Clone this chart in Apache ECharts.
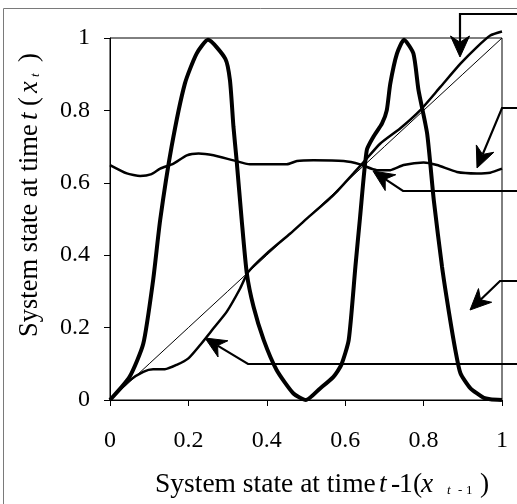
<!DOCTYPE html>
<html>
<head>
<meta charset="utf-8">
<script src="https://cdn.jsdelivr.net/npm/echarts@6/dist/echarts.min.js"></script>
<style>html,body{margin:0;padding:0;background:#fff;}#c{width:517px;height:504px;}</style>
</head>
<body>
<div id="c"></div>
<script>
// Axis ticks
const tickValues = [0, 0.2, 0.4, 0.6, 0.8, 1];

// Thick double-peaked map
const peakX = [0, 0.05, 0.085, 0.11, 0.128, 0.157, 0.191, 0.221, 0.25, 0.294, 0.306, 0.315, 0.323, 0.336, 0.349, 0.366, 0.392, 0.425, 0.468, 0.5, 0.536, 0.57, 0.59, 0.609, 0.626, 0.638, 0.655, 0.672, 0.694, 0.706, 0.715, 0.732, 0.75, 0.774, 0.787, 0.809, 0.826, 0.847, 0.865, 0.881, 0.894, 0.919, 0.953, 0.97, 1];
const peakY = [0, 0.064, 0.156, 0.331, 0.497, 0.699, 0.874, 0.957, 0.995, 0.943, 0.883, 0.754, 0.662, 0.497, 0.35, 0.258, 0.166, 0.083, 0.018, 0, 0.032, 0.064, 0.097, 0.166, 0.368, 0.506, 0.69, 0.727, 0.764, 0.80, 0.874, 0.957, 0.995, 0.957, 0.856, 0.736, 0.552, 0.368, 0.24, 0.138, 0.074, 0.033, 0.006, 0.002, 0];

// Nearly flat map (~0.65)
const flatX = [0, 0.043, 0.077, 0.106, 0.128, 0.162, 0.196, 0.226, 0.264, 0.315, 0.357, 0.451, 0.477, 0.519, 0.596, 0.638, 0.681, 0.715, 0.749, 0.8, 0.834, 0.885, 0.936, 0.97, 1];
const flatY = [0.649, 0.626, 0.619, 0.624, 0.639, 0.653, 0.676, 0.681, 0.676, 0.662, 0.651, 0.651, 0.66, 0.662, 0.66, 0.651, 0.635, 0.635, 0.649, 0.656, 0.649, 0.63, 0.626, 0.628, 0.639];

// Near-identity map
const nearX = [0, 0.051, 0.085, 0.11, 0.14, 0.17, 0.2, 0.23, 0.264, 0.298, 0.332, 0.353, 0.4, 0.46, 0.502, 0.57, 0.621, 0.651, 0.689, 0.74, 0.791, 0.843, 0.894, 0.936, 0.97, 1];
const nearY = [0, 0.055, 0.078, 0.085, 0.085, 0.097, 0.115, 0.152, 0.198, 0.244, 0.308, 0.354, 0.405, 0.46, 0.501, 0.566, 0.626, 0.662, 0.708, 0.75, 0.80, 0.865, 0.929, 0.975, 1.007, 1.018];

// Identity line (x_t = x_{t-1})
const diagX = [0, 0.1, 0.2, 0.3, 0.4, 0.5, 0.6, 0.7, 0.8, 0.9, 1];
const diagY = [0, 0.1, 0.2, 0.3, 0.4, 0.5, 0.6, 0.7, 0.8, 0.9, 1];

// Axis title pieces: [text, isItalic, isSubscript]
const xTitleParts = [['System state at time', false, false], ['t', true, false], ['-', false, false], ['1', false, false], ['(', false, false], ['x', true, false], ['t', true, true], ['-', false, true], ['1', false, true], [')', false, false]];
const yTitleParts = [['System state at time', false, false], ['t', true, false], ['(', false, false], ['x', true, false], ['t', true, true], [')', false, false]];

const zip = (xs, ys) => xs.map((x, i) => [x, ys[i]]);

const SERIF = '"Liberation Serif", "Times New Roman", serif';

// layout of the title pieces (pixel start of each piece along the text direction)
const xTitleLayout = { size: 27.5, sub: 13, shift: 6, across: 485, starts: [155, 379, 391, 399, 413, 421, 447, 458, 466, 480] };
const yTitleLayout = { size: 26.5, sub: 13, shift: 6, across: 30, starts: [337, 120, 106, 93, 77, 62] };

// annotation arrows (pixel paths; last point is the arrow tip)
const arrowPaths = [
  [[520, 14], [460, 14], [460, 57]],
  [[520, 108], [502, 108], [477, 168]],
  [[520, 191], [403, 191], [373, 171]],
  [[520, 281], [500, 281], [470, 310]],
  [[520, 364], [248, 364], [205, 338]]
];

function arrowGraphics() {
  const out = [];
  const L = 21, W = 9.5;
  arrowPaths.forEach(p => {
    const t = p[p.length - 1], s = p[p.length - 2];
    let dx = t[0] - s[0], dy = t[1] - s[1];
    const len = Math.hypot(dx, dy); dx /= len; dy /= len;
    const nx = -dy, ny = dx;
    const notch = [t[0] - dx * L * 0.7, t[1] - dy * L * 0.7];
    const pts = p.slice(0, -1).concat([notch]);
    out.push({ type: 'polyline', shape: { points: pts }, style: { stroke: '#000', lineWidth: 2.2, fill: null }, z: 100 });
    out.push({ type: 'polygon', shape: { points: [
      t,
      [t[0] - dx * L + nx * W, t[1] - dy * L + ny * W],
      notch,
      [t[0] - dx * L - nx * W, t[1] - dy * L - ny * W]
    ] }, style: { fill: '#000', stroke: '#000', lineWidth: 1 }, z: 100 });
  });
  return out;
}

function titleGraphics(parts, layout, vertical) {
  return parts.map((p, i) => {
    const shift = p[2] ? layout.shift : 0;
    const el = {
      type: 'text', z: 60,
      style: {
        text: p[0], fill: '#000', fontFamily: SERIF,
        fontSize: p[2] ? layout.sub : layout.size, fontStyle: p[1] ? 'italic' : 'normal',
        align: 'left', verticalAlign: 'middle'
      }
    };
    if (vertical) { el.x = layout.across + shift; el.y = layout.starts[i]; el.rotation = Math.PI / 2; }
    else { el.x = layout.starts[i]; el.y = layout.across + shift; }
    return el;
  });
}

const chart = echarts.init(document.getElementById('c'), null, { renderer: 'canvas' });
chart.setOption({
  animation: false,
  backgroundColor: '#fff',
  grid: { left: 110, right: 15, top: 38, bottom: 104, show: true, borderColor: '#000', borderWidth: 1, backgroundColor: 'transparent' },
  xAxis: {
    type: 'value', min: tickValues[0], max: tickValues[tickValues.length - 1], interval: 0.2,
    axisLine: { show: true, onZero: false, lineStyle: { color: '#000', width: 1 } },
    axisTick: { show: true, inside: false, length: 6, lineStyle: { color: '#000' } },
    splitLine: { show: false },
    axisLabel: { color: '#000', fontFamily: SERIF, fontSize: 24, margin: 29 }
  },
  yAxis: {
    type: 'value', min: tickValues[0], max: tickValues[tickValues.length - 1], interval: 0.2,
    axisLine: { show: true, onZero: false, lineStyle: { color: '#000', width: 1 } },
    axisTick: { show: true, inside: false, length: 6, lineStyle: { color: '#000' } },
    splitLine: { show: false },
    axisLabel: { color: '#000', fontFamily: SERIF, fontSize: 24, margin: 20 }
  },
  series: [
    { type: 'line', data: zip(diagX, diagY), showSymbol: false, clip: false, lineStyle: { color: '#000', width: 1 }, z: 2 },
    { type: 'line', data: zip(nearX, nearY), showSymbol: false, clip: false, smooth: 0.2, lineStyle: { color: '#000', width: 2.5 }, z: 3 },
    { type: 'line', data: zip(flatX, flatY), showSymbol: false, clip: false, smooth: 0.2, lineStyle: { color: '#000', width: 2.5 }, z: 3 },
    { type: 'line', data: zip(peakX, peakY), showSymbol: false, clip: false, smooth: 0.2, lineStyle: { color: '#000', width: 4 }, z: 4 }
  ],
  graphic: [
    { type: 'polyline', shape: { points: [[517, 8.5], [3.5, 8.5], [3.5, 504]] }, style: { stroke: '#7a7a7a', lineWidth: 1, fill: null }, z: 50 }
  ].concat(titleGraphics(xTitleParts, xTitleLayout, false))
   .concat(titleGraphics(yTitleParts, yTitleLayout, true))
   .concat(arrowGraphics())
});
</script>
</body>
</html>
